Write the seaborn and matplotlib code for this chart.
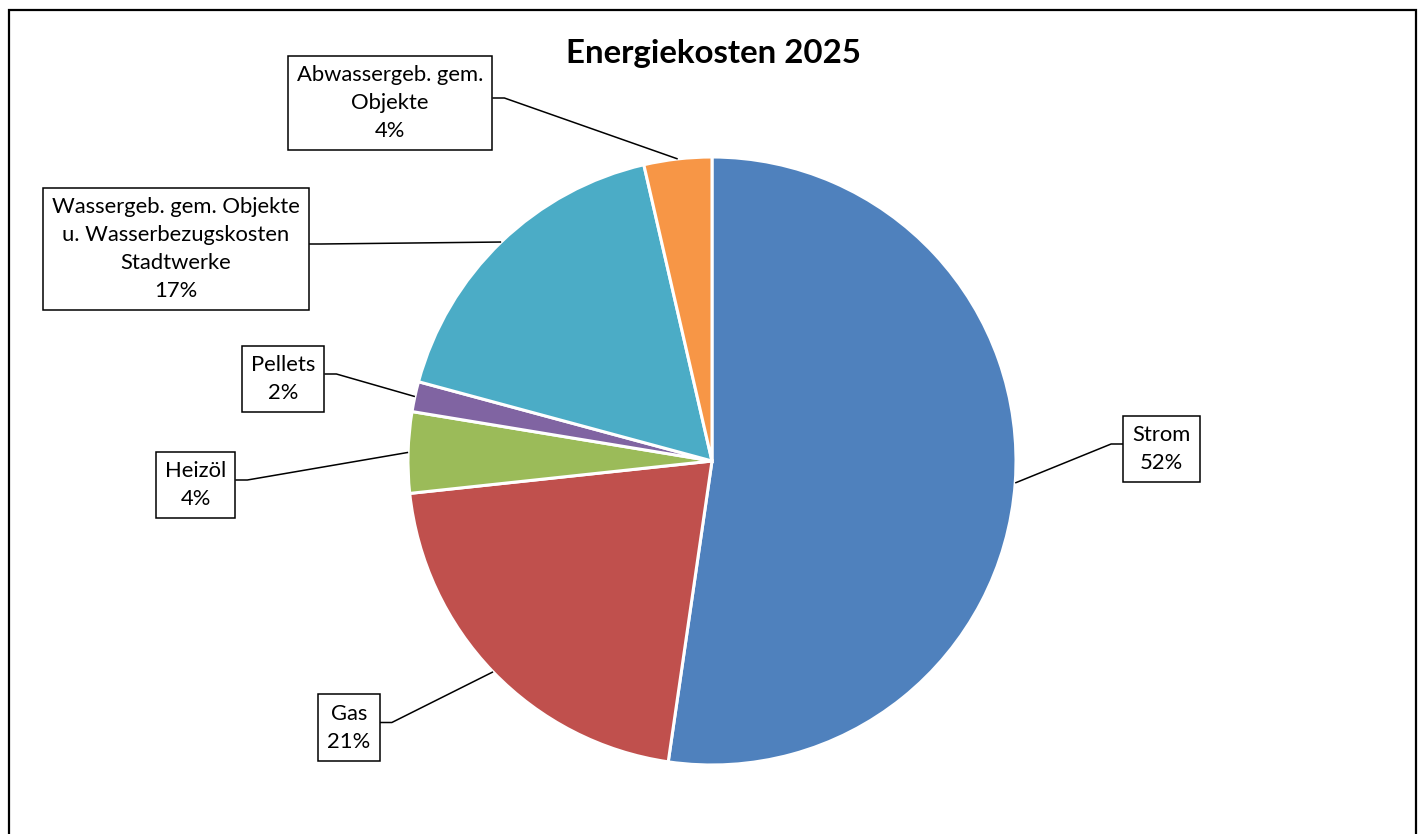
import matplotlib
matplotlib.use("Agg")
import numpy as np
import matplotlib.pyplot as plt
import seaborn as sns
from matplotlib.patches import Rectangle

# ---- data ----
categories = [
    "Strom",
    "Gas",
    "Heizöl",
    "Pellets",
    "Wassergeb. gem. Objekte\nu. Wasserbezugskosten\nStadtwerke",
    "Abwassergeb. gem.\nObjekte",
]
values = [52.3, 21.0, 4.3, 1.6, 17.2, 3.6]
colors = ["#4F81BD", "#C0504D", "#9BBB59", "#8064A2", "#4BACC6", "#F79646"]
title = "Energiekosten 2025"

# ---- style ----
sns.set_theme(style="white")
plt.rcParams['font.family'] = ['Lato', 'DejaVu Sans']

W, H = 1422, 834
fig = plt.figure(figsize=(W / 100, H / 100), dpi=100)
ax = fig.add_axes([0, 0, 1, 1])

palette = sns.color_palette(colors)
cx, cy, r = 712, H - 461, 304
wedges, _ = ax.pie(values, colors=palette, startangle=90, counterclock=False,
                   center=(cx, cy), radius=r,
                   wedgeprops=dict(edgecolor='white', linewidth=2.2))
ax.set_xlim(0, W)
ax.set_ylim(0, H)
ax.set_aspect('equal')
ax.axis('off')

# label box centres (image pixel coords, y down)
label_pos = [(1161.5, 449), (349, 727.5), (195.5, 485), (283, 379), (176, 249), (390, 103)]

texts = []
for cat, v, (lx, ly) in zip(categories, values, label_pos):
    t = ax.text(lx, H - ly, f"{cat}\n{round(v):.0f}%", ha='center', va='center',
                multialignment='center', fontsize=15.8, color='black', linespacing=1.5,
                bbox=dict(boxstyle='square,pad=0.42', fc='white', ec='black', lw=1.1),
                zorder=5)
    texts.append(t)

fig.canvas.draw()
inv = ax.transData.inverted()
for w, t in zip(wedges, texts):
    th = np.deg2rad((w.theta1 + w.theta2) / 2)
    axx, ayy = cx + r * np.cos(th), cy + r * np.sin(th)
    bb = t.get_bbox_patch().get_window_extent()
    (x0, y0), (x1, y1) = inv.transform([(bb.x0, bb.y0), (bb.x1, bb.y1)])
    ym = (y0 + y1) / 2 + 5
    if axx > (x0 + x1) / 2:
        side, stub = x1, x1 + 12
    else:
        side, stub = x0, x0 - 12
    ax.plot([side, stub, axx], [ym, ym, ayy], color='black', lw=1.1, zorder=4,
            solid_capstyle='butt')

ax.text(714, H - 53, title, ha='center', va='center', fontsize=23.8,
        fontweight='bold', color='black')

ax.add_patch(Rectangle((9, -10), 1407, H - 10 + 10, fill=False, ec='black',
                       lw=1.6, clip_on=False, zorder=10))

fig.savefig("out.png", dpi=100)
